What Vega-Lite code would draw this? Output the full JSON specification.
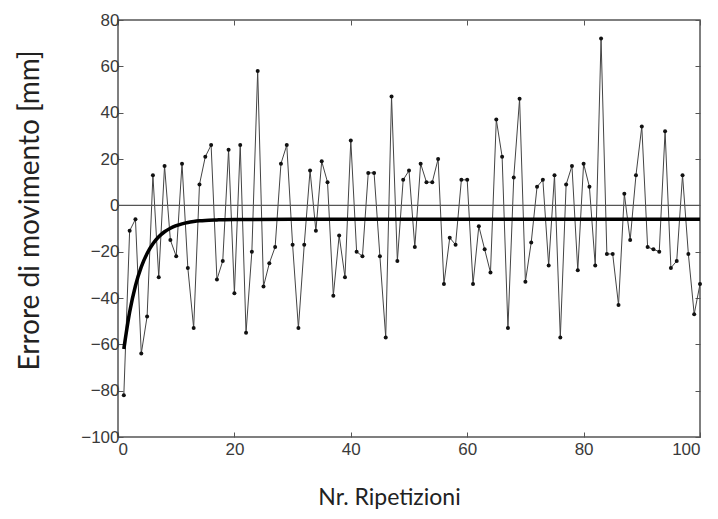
{
  "$schema": "https://vega.github.io/schema/vega-lite/v6.json",
  "width": 582,
  "height": 417,
  "autosize": {"type": "none"},
  "padding": {"left": 118, "top": 20, "right": 18, "bottom": 82},
  "background": "white",
  "config": {
    "view": {"stroke": "#555", "strokeWidth": 1.5},
    "axis": {
      "domain": false,
      "grid": false,
      "ticks": true,
      "tickSize": -5,
      "tickColor": "#555",
      "labelFont": "Liberation Sans",
      "labelFontSize": 17,
      "labelColor": "#3a3a3a",
      "titleFont": "Lato",
      "titleFontWeight": "normal",
      "titleColor": "#222"
    }
  },
  "datasets": {
    "err": [
      {"n":1,"e":-82},{"n":2,"e":-11},{"n":3,"e":-6},{"n":4,"e":-64},{"n":5,"e":-48},
      {"n":6,"e":13},{"n":7,"e":-31},{"n":8,"e":17},{"n":9,"e":-15},{"n":10,"e":-22},
      {"n":11,"e":18},{"n":12,"e":-27},{"n":13,"e":-53},{"n":14,"e":9},{"n":15,"e":21},
      {"n":16,"e":26},{"n":17,"e":-32},{"n":18,"e":-24},{"n":19,"e":24},{"n":20,"e":-38},
      {"n":21,"e":26},{"n":22,"e":-55},{"n":23,"e":-20},{"n":24,"e":58},{"n":25,"e":-35},
      {"n":26,"e":-25},{"n":27,"e":-18},{"n":28,"e":18},{"n":29,"e":26},{"n":30,"e":-17},
      {"n":31,"e":-53},{"n":32,"e":-17},{"n":33,"e":15},{"n":34,"e":-11},{"n":35,"e":19},
      {"n":36,"e":10},{"n":37,"e":-39},{"n":38,"e":-13},{"n":39,"e":-31},{"n":40,"e":28},
      {"n":41,"e":-20},{"n":42,"e":-22},{"n":43,"e":14},{"n":44,"e":14},{"n":45,"e":-22},
      {"n":46,"e":-57},{"n":47,"e":47},{"n":48,"e":-24},{"n":49,"e":11},{"n":50,"e":15},
      {"n":51,"e":-18},{"n":52,"e":18},{"n":53,"e":10},{"n":54,"e":10},{"n":55,"e":20},
      {"n":56,"e":-34},{"n":57,"e":-14},{"n":58,"e":-17},{"n":59,"e":11},{"n":60,"e":11},
      {"n":61,"e":-34},{"n":62,"e":-9},{"n":63,"e":-19},{"n":64,"e":-29},{"n":65,"e":37},
      {"n":66,"e":21},{"n":67,"e":-53},{"n":68,"e":12},{"n":69,"e":46},{"n":70,"e":-33},
      {"n":71,"e":-16},{"n":72,"e":8},{"n":73,"e":11},{"n":74,"e":-26},{"n":75,"e":13},
      {"n":76,"e":-57},{"n":77,"e":9},{"n":78,"e":17},{"n":79,"e":-28},{"n":80,"e":18},
      {"n":81,"e":8},{"n":82,"e":-26},{"n":83,"e":72},{"n":84,"e":-21},{"n":85,"e":-21},
      {"n":86,"e":-43},{"n":87,"e":5},{"n":88,"e":-15},{"n":89,"e":13},{"n":90,"e":34},
      {"n":91,"e":-18},{"n":92,"e":-19},{"n":93,"e":-20},{"n":94,"e":32},{"n":95,"e":-27},
      {"n":96,"e":-24},{"n":97,"e":13},{"n":98,"e":-21},{"n":99,"e":-47},{"n":100,"e":-34}
    ],
    "fit": [
      {"n":1,"e":-62},{"n":2,"e":-46.1},{"n":3,"e":-34.7},{"n":4,"e":-26.6},{"n":5,"e":-20.8},
      {"n":6,"e":-16.6},{"n":7,"e":-13.6},{"n":8,"e":-11.4},{"n":9,"e":-9.9},{"n":10,"e":-8.8},
      {"n":11,"e":-8.0},{"n":12,"e":-7.4},{"n":13,"e":-7.0},{"n":14,"e":-6.7},{"n":15,"e":-6.5},
      {"n":17,"e":-6.3},{"n":20,"e":-6.1},{"n":30,"e":-6},{"n":100,"e":-6}
    ],
    "zero": [{"n":0,"e":0},{"n":100,"e":0}]
  },
  "resolve": {"axis": {"x": "independent", "y": "independent"}},
  "layer": [
    {
      "data": {"name": "err"},
      "mark": {"type": "line", "color": "#444", "strokeWidth": 1,
               "point": {"filled": true, "size": 16, "color": "#111"}},
      "encoding": {
        "x": {"field": "n", "type": "quantitative", "scale": {"domain": [0, 100], "nice": false},
              "axis": {"orient": "bottom", "values": [0,20,40,60,80,100], "labelPadding": 9,
                       "title": "Nr. Ripetizioni", "titleFontSize": 23, "titlePadding": 29,
                       "titleX": 271}},
        "y": {"field": "e", "type": "quantitative", "scale": {"domain": [-100, 80], "nice": false},
              "axis": {"orient": "left", "values": [-100,-80,-60,-40,-20,0,20,40,60,80], "labelPadding": 4,
                       "title": "Errore di movimento [mm]", "titleFontSize": 28, "titlePadding": 36,
                       "titleY": 190}}
      }
    },
    {
      "data": {"name": "zero"},
      "mark": {"type": "line", "color": "#555", "strokeWidth": 1.2},
      "encoding": {
        "x": {"field": "n", "type": "quantitative",
              "axis": {"orient": "top", "labels": false, "title": null, "values": [0,20,40,60,80,100]}},
        "y": {"field": "e", "type": "quantitative",
              "axis": {"orient": "right", "labels": false, "title": null, "values": [-100,-80,-60,-40,-20,0,20,40,60,80]}}
      }
    },
    {
      "data": {"name": "fit"},
      "mark": {"type": "line", "color": "#000", "strokeWidth": 3.5, "interpolate": "monotone"},
      "encoding": {
        "x": {"field": "n", "type": "quantitative", "axis": null},
        "y": {"field": "e", "type": "quantitative", "axis": null}
      }
    }
  ]
}
